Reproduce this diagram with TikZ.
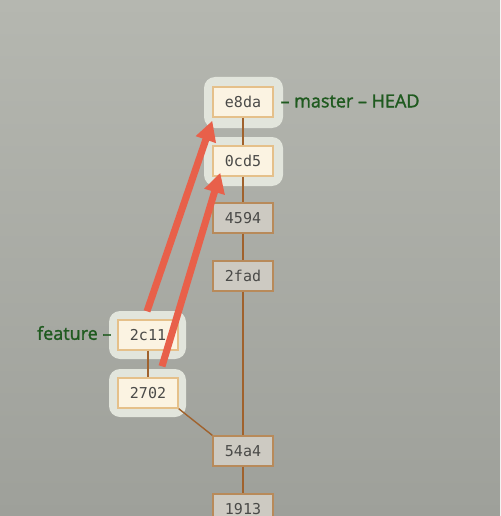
\documentclass[tikz,border=0pt]{standalone}
\usepackage{fontspec}
\usetikzlibrary{arrows.meta,calc}
\newfontfamily\hashfont{DejaVu Sans Mono}
\newfontfamily\labfont[FakeBold=1.6]{Open Sans}
\definecolor{bgtop}{HTML}{B5B7B0}
\definecolor{bgbot}{HTML}{9EA09A}
\definecolor{glowc}{HTML}{E2E5DC}
\definecolor{creamfill}{HTML}{FBF3E2}
\definecolor{creamedge}{HTML}{E5C08A}
\definecolor{greyfill}{HTML}{CDCAC2}
\definecolor{greyedge}{HTML}{B88A5A}
\definecolor{linkc}{HTML}{A0622D}
\definecolor{textc}{HTML}{4A4A48}
\definecolor{labc}{HTML}{1F5A1F}
\definecolor{arrowc}{HTML}{E8604A}
\tikzset{
  commit/.style={draw, line width=1.4pt, minimum width=60pt, minimum height=30pt,
    inner sep=0pt, font=\hashfont\fontsize{15}{15}\selectfont, text=textc},
  hot/.style={commit, fill=creamfill, draw=creamedge},
  cold/.style={commit, fill=greyfill, draw=greyedge},
  glow/.style={fill=glowc, rounded corners=11pt},
  link/.style={draw=linkc, line width=1.4pt},
  branchlab/.style={font=\labfont\fontsize{18}{18}\selectfont, text=labc},
  move/.style={draw=arrowc, line width=7pt, -{Triangle[length=20pt,width=20pt]}}
}
\begin{document}
\begin{tikzpicture}[x=1pt,y=-1pt]
\shade[top color=bgtop, bottom color=bgbot] (0,0) rectangle (500,516);
\useasboundingbox (0,0) rectangle (500,516);
% glows
\fill[glow] (204,77) rectangle (283,128);
\fill[glow] (204,137) rectangle (283,186);
\fill[glow] (109,311) rectangle (186,359);
\fill[glow] (109,369) rectangle (186,417);
% commits
\node[hot]  (e8da) at (243,102) {e8da};
\node[hot]  (0cd5) at (243,161) {0cd5};
\node[cold] (4594) at (243,218) {4594};
\node[cold] (2fad) at (243,276) {2fad};
\node[hot]  (2c11) at (148,335) {2c11};
\node[hot]  (2702) at (148,393) {2702};
\node[cold] (54a4) at (243,451) {54a4};
\node[cold] (1913) at (243,509) {1913};
% links
\draw[link] (e8da) -- (0cd5);
\draw[link] (0cd5) -- (4594);
\draw[link] (4594) -- (2fad);
\draw[link] (2fad) -- (54a4);
\draw[link] (54a4) -- (1913);
\draw[link] (2c11) -- (2702);
\draw[link] (2702.south east) -- (54a4.north west);
% labels
\node[branchlab, anchor=west] (mlab) at (277,101) {– master – HEAD};
\node[branchlab, anchor=east] (flab) at (115,333) {feature –};
% arrows
\coordinate (a1s) at ($(2c11.north)+(-1,-8)$);
\coordinate (a1e) at ($(e8da.south west)+(0,3)$);
\coordinate (a2s) at ($(2702.north)+(14,-11)$);
\coordinate (a2e) at ($(0cd5.south west)+(8,-4)$);
\draw[move] (a1s) -- (a1e);
\draw[move] (a2s) -- (a2e);
\end{tikzpicture}
\end{document}
